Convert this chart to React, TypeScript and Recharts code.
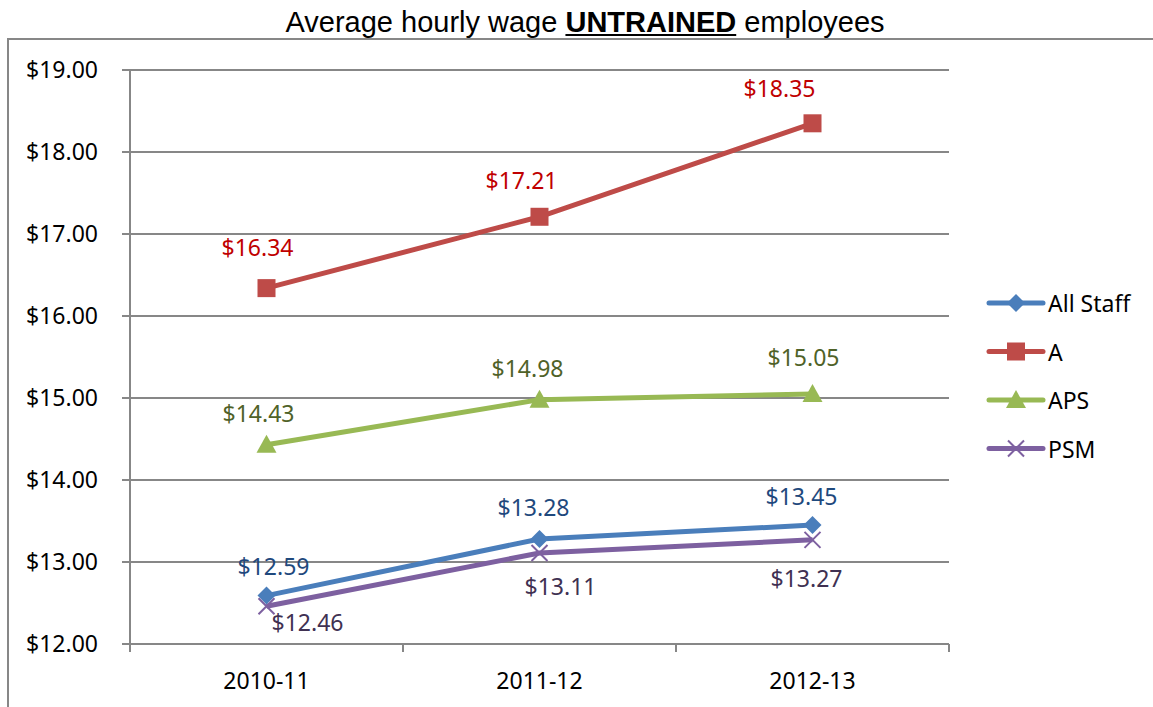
import React from 'react';
import { LineChart, Line, XAxis, YAxis, CartesianGrid, LabelList, Legend } from 'recharts';

const YEARS = ['2010-11', '2011-12', '2012-13'];
const ALL_STAFF = [12.59, 13.28, 13.45];
const A_LEVEL = [16.34, 17.21, 18.35];
const APS = [14.43, 14.98, 15.05];
const PSM = [12.46, 13.11, 13.27];
const Y_TICKS = [12, 13, 14, 15, 16, 17, 18, 19];

const data = YEARS.map((year, i) => ({
  year,
  allStaff: ALL_STAFF[i],
  a: A_LEVEL[i],
  aps: APS[i],
  psm: PSM[i],
}));

const FONT = '"Noto Sans", sans-serif';
const FS = 23;
const GRID = '#878787';
const HALF_BAND = 136.5;

// label nudges (Excel placed them by hand)
const SERIES = [
  { key: 'allStaff', name: 'All Staff', color: '#4A7EBB', text: '#1F497D', shape: 'diamond', dx: [7, -6, -11], dy: [-30, -32, -29] },
  { key: 'a', name: 'A', color: '#BE4B48', text: '#C00000', shape: 'square', dx: [-9, -18, -33], dy: [-41, -37, -35] },
  { key: 'aps', name: 'APS', color: '#98B954', text: '#4F6228', shape: 'triangle', dx: [-8, -12, -9], dy: [-32, -32, -37] },
  { key: 'psm', name: 'PSM', color: '#7D60A0', text: '#403152', shape: 'x', dx: [41, 21, -6], dy: [16, 33, 38] },
];

const Marker = ({ shape, cx, cy, color }: any) => {
  if (shape === 'diamond')
    return <path d={`M${cx},${cy - 9}L${cx + 9},${cy}L${cx},${cy + 9}L${cx - 9},${cy}Z`} fill={color} />;
  if (shape === 'square') return <rect x={cx - 9} y={cy - 9} width={18} height={18} fill={color} />;
  if (shape === 'triangle')
    return <path d={`M${cx},${cy - 10}L${cx + 10},${cy + 8}L${cx - 10},${cy + 8}Z`} fill={color} />;
  return (
    <path
      d={`M${cx - 8},${cy - 8}L${cx + 8},${cy + 8}M${cx + 8},${cy - 8}L${cx - 8},${cy + 8}`}
      stroke={color}
      strokeWidth={2}
      fill="none"
    />
  );
};

const XTick = (props: any) => {
  const { x, y, payload, index } = props;
  return (
    <g>
      <line x1={x - HALF_BAND} y1={y} x2={x - HALF_BAND} y2={y + 8} stroke={GRID} strokeWidth={2} />
      {index === YEARS.length - 1 && (
        <line x1={x + HALF_BAND} y1={y} x2={x + HALF_BAND} y2={y + 8} stroke={GRID} strokeWidth={2} />
      )}
      <text x={x} y={y + 36} textAnchor="middle" dominantBaseline="central" fill="#000" fontSize={FS} fontFamily={FONT}>
        {payload.value}
      </text>
    </g>
  );
};

const LegendBox = () => (
  <svg width={165} height={200}>
    {SERIES.map((s, i) => {
      const cy = 18 + i * 48.5;
      return (
        <g key={s.key}>
          <line x1={4} y1={cy} x2={58} y2={cy} stroke={s.color} strokeWidth={5} strokeLinecap="round" />
          <Marker shape={s.shape} cx={31} cy={cy} color={s.color} />
          <text x={63} y={cy} dominantBaseline="central" fontSize={FS} fontFamily={FONT} fill="#000">
            {s.name}
          </text>
        </g>
      );
    })}
  </svg>
);

export default function App() {
  return (
    <div style={{ position: 'absolute', left: 0, top: 0, width: 1153, height: 707, overflow: 'hidden', background: '#fff' }}>
      <div
        style={{
          position: 'absolute',
          left: 7,
          top: 38,
          width: 1200,
          height: 720,
          border: `2px solid ${GRID}`,
        }}
      />
      <div
        style={{
          position: 'absolute',
          left: 0,
          top: 4,
          width: 1170,
          textAlign: 'center',
          fontFamily: '"Liberation Sans", Arial, sans-serif',
          fontSize: 29,
          lineHeight: '36px',
          color: '#000',
        }}
      >
        Average hourly wage <b style={{ textDecoration: 'underline' }}>UNTRAINED</b> employees
      </div>
      <div style={{ position: 'absolute', left: 0, top: 0 }}>
        <LineChart width={1153} height={707} data={data} margin={{ top: 70, right: 204, bottom: 33, left: 0 }}>
          <CartesianGrid vertical={false} stroke={GRID} strokeWidth={2} />
          <XAxis
            dataKey="year"
            height={30}
            padding={{ left: HALF_BAND, right: HALF_BAND }}
            axisLine={{ stroke: GRID, strokeWidth: 2 }}
            tickLine={false}
            tickSize={0}
            tickMargin={0}
            tick={<XTick />}
            interval={0}
          />
          <YAxis
            width={130}
            domain={[12, 19]}
            ticks={Y_TICKS}
            allowDataOverflow
            axisLine={{ stroke: GRID, strokeWidth: 2 }}
            tickLine={{ stroke: GRID, strokeWidth: 2 }}
            tickSize={8}
            tickMargin={24}
            tick={{ fill: '#000', fontSize: FS, fontFamily: FONT }}
            tickFormatter={(v: number) => `$${v.toFixed(2)}`}
          />
          <Legend
            layout="vertical"
            align="center"
            verticalAlign="middle"
            content={<LegendBox />}
            wrapperStyle={{ left: 985, top: 285, width: 165, height: 200 }}
          />
          {SERIES.map((s) => (
            <Line
              key={s.key}
              type="linear"
              dataKey={s.key}
              name={s.name}
              stroke={s.color}
              strokeWidth={5}
              isAnimationActive={false}
              dot={(p: any) => <Marker key={`${s.key}-${p.index}`} shape={s.shape} cx={p.cx} cy={p.cy} color={s.color} />}
              activeDot={false}
            >
              <LabelList
                dataKey={s.key}
                content={(p: any) => (
                  <text
                    x={p.x + s.dx[p.index]}
                    y={p.y + s.dy[p.index]}
                    textAnchor="middle"
                    dominantBaseline="central"
                    fill={s.text}
                    fontSize={FS}
                    fontFamily={FONT}
                  >
                    {`$${Number(p.value).toFixed(2)}`}
                  </text>
                )}
              />
            </Line>
          ))}
        </LineChart>
      </div>
    </div>
  );
}
